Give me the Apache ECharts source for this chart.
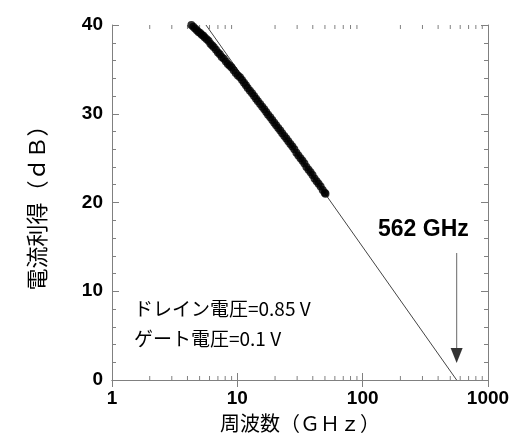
<!DOCTYPE html>
<html><head><meta charset="utf-8">
<script src="https://cdn.jsdelivr.net/npm/echarts@6/dist/echarts.min.js"></script>
<style>html,body{margin:0;padding:0;background:#fff}#c{width:523px;height:441px}</style>
</head><body><div id="c"></div>
<script>
// Measured data (frequency in GHz, current gain in dB)
var freqGHz = [4.30,4.45,4.60,4.75,4.90,5.05,5.20,5.35,5.50,5.70,5.90,6.10,6.30,6.50,6.75,7.00,7.25,7.50,7.80,8.10,8.40,8.70,9.00,9.35,9.70,10.1,10.5,10.9,11.3,11.7,12.1,12.6,13.1,13.6,14.1,14.6,15.2,15.8,16.4,17.0,17.6,18.3,19.0,19.7,20.4,21.2,22.0,22.8,23.7,24.6,25.5,26.5,27.5,28.5,29.6,30.7,31.9,33.1,34.3,35.6,37.0,38.4,39.8,41.3,42.9,44.5,46.2,48.0,49.8,50.5];
var gainDB  = [40.0,39.8,39.6,39.4,39.2,39.1,38.9,38.8,38.6,38.4,38.2,37.9,37.7,37.5,37.2,36.9,36.7,36.4,36.2,35.9,35.6,35.4,35.2,34.9,34.6,34.3,34.1,33.8,33.5,33.2,32.9,32.6,32.3,32.0,31.7,31.4,31.1,30.8,30.5,30.2,29.9,29.6,29.3,29.0,28.7,28.4,28.1,27.8,27.5,27.2,26.9,26.6,26.3,26.0,25.6,25.3,25.0,24.7,24.4,24.0,23.7,23.4,23.1,22.7,22.4,22.1,21.8,21.4,21.1,21.0];
// -20 dB/dec extrapolation line
var fitX = [5.62, 562];
var fitY = [40, 0];
// arrow marking fT
var arrowX = [562, 562];
var arrowY = [14.3, 3.6];
var arrowHeadX = [562];
var arrowHeadY = [2.75];
// minor ticks of the log axis
var minorX = [2,3,4,5,6,7,8,9,20,30,40,50,60,70,80,90,200,300,400,500,600,700,800,900];
var xTicks = [1,10,100,1000];
var yTicks = [0,10,20,30,40];

var AX = '#808080';
var chart = echarts.init(document.getElementById('c'), null, {renderer:'canvas'});
var tickLabel = {color:'#000', fontFamily:'Liberation Sans, Arial, sans-serif', fontWeight:'bold', fontSize:19};
var cjk = 'Noto Sans CJK JP';

var option = {
  animation:false,
  backgroundColor:'#fff',
  grid:{left:112, right:35, top:25, bottom:61},
  xAxis:[
    {type:'log', logBase:10, min:xTicks[0], max:xTicks[xTicks.length-1], position:'bottom',
     axisLine:{show:true, lineStyle:{color:AX, width:1}},
     axisTick:{show:true, inside:true, length:7, lineStyle:{color:AX}},
     axisLabel:Object.assign({margin:9, formatter:function(v){return String(Math.round(v));}}, tickLabel),
     splitLine:{show:false},
     name:'周波数（ＧＨｚ）', nameLocation:'middle', nameGap:33,
     nameTextStyle:{fontFamily:cjk, fontSize:20, color:'#000'}},
    {type:'log', logBase:10, min:1, max:1000, position:'top',
     axisLine:{show:true, lineStyle:{color:AX, width:1}},
     axisTick:{show:true, inside:true, length:7, lineStyle:{color:AX}},
     axisLabel:{show:false}, splitLine:{show:false}}
  ],
  yAxis:[
    {type:'value', min:yTicks[0], max:yTicks[yTicks.length-1], interval:10, position:'left',
     axisLine:{show:true, lineStyle:{color:AX, width:1}},
     axisTick:{show:true, inside:true, length:7, lineStyle:{color:AX}},
     minorTick:{show:true, splitNumber:5, length:4, lineStyle:{color:AX}},
     axisLabel:Object.assign({margin:9}, tickLabel),
     splitLine:{show:false},
     name:'電流利得（ｄＢ）', nameLocation:'middle', nameGap:64, nameRotate:90,
     nameTextStyle:{fontFamily:cjk, fontSize:22, color:'#000'}},
    {type:'value', min:0, max:40, interval:10, position:'right',
     axisLine:{show:true, lineStyle:{color:AX, width:1}},
     axisTick:{show:true, inside:true, length:7, lineStyle:{color:AX}},
     minorTick:{show:true, splitNumber:5, length:4, lineStyle:{color:AX}},
     axisLabel:{show:false}, splitLine:{show:false}}
  ],
  series:[
    {type:'custom', xAxisIndex:0, yAxisIndex:0, silent:true, z:1,
     data:minorX.map(function(v){return [v];}),
     renderItem:function(params, api){
       var v = api.value(0);
       var b = api.coord([v, 0]);
       var t = api.coord([v, 40]);
       var st = {stroke:AX, lineWidth:1};
       return {type:'group', children:[
         {type:'line', shape:{x1:b[0], y1:b[1], x2:b[0], y2:b[1]-4}, style:st},
         {type:'line', shape:{x1:t[0], y1:t[1], x2:t[0], y2:t[1]+4}, style:st}
       ]};
     }},
    {type:'line', data:fitX.map(function(x,i){return [x, fitY[i]];}),
     symbol:'none', lineStyle:{color:'#444', width:1}, z:2},
    {type:'scatter', data:freqGHz.map(function(x,i){return [x, gainDB[i]];}),
     symbol:'circle', symbolSize:8, itemStyle:{color:'#000'}, z:3},
    {type:'line', data:arrowX.map(function(x,i){return [x, arrowY[i]];}),
     symbol:'none', lineStyle:{color:'#808080', width:1.2}, z:2},
    {type:'scatter', data:arrowHeadX.map(function(x,i){return [x, arrowHeadY[i]];}),
     symbol:'triangle', symbolRotate:180, symbolSize:[12,15], itemStyle:{color:'#000'}, z:3}
  ],
  graphic:[
    {type:'text', left:378, top:218, style:{text:'562 GHz', font:'bold 23px "Liberation Sans", Arial, sans-serif', fill:'#000'}},
    {type:'text', left:134, top:299, style:{text:'ドレイン電圧=0.85 V', font:'19px "Noto Sans CJK JP"', fill:'#000'}},
    {type:'text', left:134, top:329, style:{text:'ゲート電圧=0.1 V', font:'19px "Noto Sans CJK JP"', fill:'#000'}}
  ]
};
chart.setOption(option);
</script></body></html>
